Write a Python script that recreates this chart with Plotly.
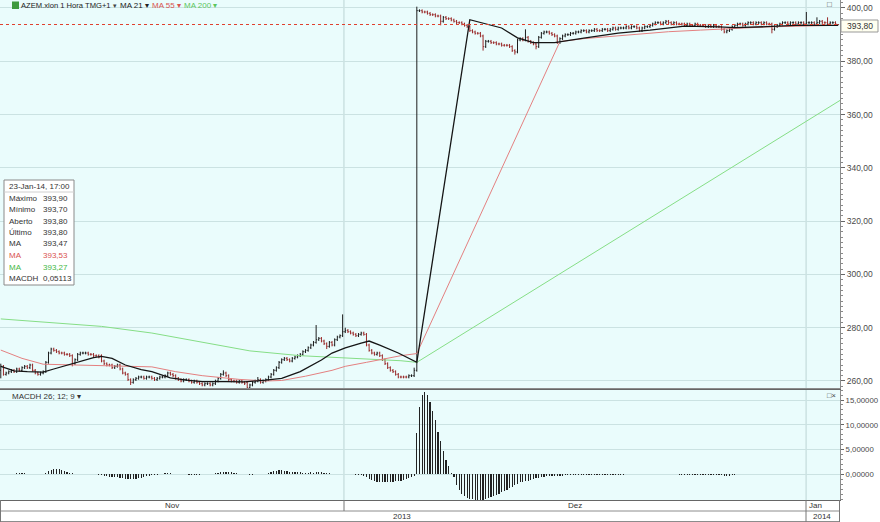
import plotly.graph_objects as go

W, H = 880, 522
def px(x): return x / W
def py(y): return 1 - y / H

FONT = "Liberation Sans, Arial, sans-serif"

# ---------------- data (hourly bars, AZEM.xlon) ----------------
opens = [
 264.0, 265.5, 262.5, 263.0, 263.5, 264.0, 263.5, 264.5, 264.0, 265.0,
 265.5, 265.0, 266.0, 264.0, 263.0, 262.5, 263.0,
 263.5, 267.0, 270.5, 272.0,
 271.5, 271.0, 270.5, 270.5, 270.0, 270.0, 269.5, 266.5, 268.0, 270.0, 270.5, 270.5, 270.5, 270.0, 270.0, 269.5, 269.5,
 269.5, 267.5, 266.5, 266.0, 266.0, 265.0, 265.5, 266.0, 264.5, 263.0, 262.5, 260.5,
 259.5, 260.5, 261.0, 261.5, 261.5, 261.0, 261.5, 261.5, 261.0, 260.5, 261.0, 261.5,
 261.5, 262.0, 263.0, 262.5,
 262.0, 261.0, 260.5, 260.0, 260.5, 260.5, 260.0, 259.5,
 260.0, 259.5, 259.0, 258.5, 259.0, 259.0, 258.5,
 259.0, 260.0, 261.0, 262.5, 263.0,
 262.0, 260.5, 260.0, 260.0, 259.5, 260.0, 259.5,
 259.5, 257.5,
 258.5, 259.5, 260.0, 260.5, 259.5, 260.0,
 260.5, 261.5, 262.5, 264.0, 265.0,
 267.0, 268.0, 268.5, 268.0, 267.5, 268.5, 269.0, 269.5,
 270.0, 271.0, 271.5, 272.5, 273.5,
 274.5, 275.5,
 276.0, 275.0, 274.0, 273.0, 274.5, 273.5,
 275.5, 276.5, 277.0,
 278.5, 279.0, 278.5, 278.0, 277.5, 277.0, 277.5, 278.0,
 277.5, 273.5,
 271.5, 270.5, 270.0, 270.5, 269.5, 268.0, 266.5, 265.0,
 264.0, 263.5, 262.5, 261.5, 261.5, 261.5, 261.5, 262.0, 262.0,
 264.0,
 399.0, 399.0, 398.5, 398.5, 398.0,
 397.5, 397.5, 397.0,
 397.0,
 395.0, 396.5, 396.0, 396.0, 395.5, 395.0, 394.5,
 394.5, 394.0, 393.5, 393.0,
 391.5, 391.0, 390.5, 390.5,
 389.5,
 385.5, 387.5, 387.5, 387.0, 387.0, 386.5, 386.5, 386.0, 386.0, 386.0,
 385.5, 384.0,
 383.5,
 388.0, 388.5, 388.0,
 389.0, 387.5, 387.0, 386.5,
 385.5, 389.0,
 390.5, 391.0, 391.0, 390.5, 390.0,
 389.5,
 387.0, 388.5, 389.5, 390.0, 390.0, 390.5, 390.5,
 391.0, 391.0, 391.5, 391.5, 391.0, 391.5, 391.5, 392.0, 391.5,
 391.5, 392.0, 392.0, 391.5, 392.0, 392.5, 392.0, 392.5,
 392.5, 392.5, 393.0, 392.5, 393.0, 393.0, 392.5, 391.5, 392.5, 393.0, 393.0,
 393.5, 394.0, 394.5, 394.5, 394.0, 394.5, 395.0, 394.5, 394.0, 394.5, 394.0,
 394.0, 394.0, 393.5, 394.0, 393.5, 393.5, 394.0, 393.5,
 393.5, 393.5, 393.0, 393.5, 393.0, 393.5, 393.0,
 393.0, 392.0, 391.0, 391.5,
 392.0, 393.0, 393.5, 394.0, 394.0, 393.5,
 394.0, 394.5, 394.5, 394.0, 394.5, 394.5, 394.0, 394.5, 394.0,
 394.0, 392.0,
 393.0, 393.5, 394.0, 394.5, 394.5, 394.0, 394.5, 394.5, 394.0, 394.5, 394.5,
 394.0,
 394.5, 394.5, 394.5, 394.0, 394.5, 395.0, 394.5, 394.5, 394.0, 394.5, 394.5, 393.8,
]

highs = [
 266.5, 266.0, 263.5, 264.0, 264.5, 264.5, 265.0, 265.0, 265.5, 266.0,
 266.0, 266.5, 266.5, 264.5, 263.5, 263.5, 264.0,
 267.5, 271.0, 272.5, 272.5,
 272.0, 271.5, 271.0, 271.0, 270.5, 270.5, 270.0, 268.5, 270.5, 271.0, 271.0, 271.0, 271.0, 270.5, 270.5, 270.0, 270.0,
 270.0, 268.0, 267.0, 266.5, 266.5, 266.0, 266.5, 266.5, 265.0, 263.5, 263.0, 261.0,
 261.0, 261.5, 262.0, 262.0, 262.0, 262.0, 262.0, 262.0, 261.5, 261.5, 262.0, 262.0,
 262.5, 263.5, 263.5, 263.0,
 262.5, 261.5, 261.0, 261.0, 261.0, 261.0, 260.5, 260.5,
 260.5, 260.0, 259.5, 259.5, 259.5, 259.5, 259.5,
 260.5, 261.5, 263.0, 264.0, 263.5,
 262.5, 261.0, 260.5, 260.5, 260.5, 260.5, 260.0,
 260.0, 259.0,
 260.0, 260.5, 261.5, 261.0, 260.5, 261.0,
 262.0, 263.0, 264.5, 265.5, 267.5,
 268.5, 269.0, 269.0, 268.5, 269.0, 269.5, 270.0, 270.5,
 271.5, 272.0, 273.0, 274.0, 275.0,
 281.0, 276.5,
 276.5, 275.5, 274.5, 275.0, 275.0, 276.0,
 277.0, 277.5, 285.0,
 280.0, 279.5, 279.0, 278.5, 278.0, 278.0, 278.5, 278.5,
 278.0, 274.0,
 272.0, 271.0, 271.0, 271.0, 270.0, 268.5, 267.0, 265.5,
 264.5, 264.0, 263.0, 262.0, 262.0, 262.0, 262.5, 262.5, 265.0,
 400.5,
 399.5, 399.5, 399.0, 399.0, 398.5,
 398.0, 398.0, 397.5,
 397.5,
 397.0, 397.0, 396.5, 396.5, 396.0, 395.5, 395.0,
 395.0, 394.5, 394.0, 393.5,
 392.0, 391.5, 391.0, 391.0,
 390.0,
 388.0, 388.0, 388.0, 387.5, 387.5, 387.0, 387.0, 386.5, 386.5, 386.5,
 386.0, 384.5,
 388.5,
 389.0, 389.0, 392.0,
 389.5, 388.0, 387.5, 387.0,
 389.5, 391.0,
 391.5, 391.5, 391.5, 391.0, 390.5,
 390.0,
 389.0, 390.0, 390.5, 390.5, 391.0, 391.0, 391.5,
 391.5, 392.0, 392.0, 392.0, 392.0, 392.0, 392.5, 392.5, 392.0,
 392.5, 392.5, 392.5, 392.5, 393.0, 393.0, 393.0, 393.0,
 393.0, 393.5, 393.5, 393.5, 393.5, 393.5, 393.0, 393.0, 393.5, 393.5, 394.0,
 394.5, 395.0, 395.0, 395.0, 395.0, 395.5, 395.5, 395.0, 395.0, 395.0, 394.5,
 394.5, 394.5, 394.5, 394.5, 394.0, 394.5, 394.5, 394.0,
 394.0, 394.0, 394.0, 394.0, 394.0, 394.0, 393.5,
 393.5, 392.5, 392.0, 392.5,
 393.5, 394.0, 394.5, 394.5, 394.5, 394.5,
 395.0, 395.0, 395.0, 395.0, 395.0, 395.0, 395.0, 395.0, 394.5,
 394.5, 393.5,
 394.0, 394.5, 395.0, 395.0, 395.0, 395.0, 395.0, 395.0, 395.0, 395.0, 395.0,
 398.5,
 395.0, 395.0, 395.0, 396.5, 395.5, 395.5, 395.0, 396.5, 395.0, 395.0, 395.0, 393.9,
]

lows = [
 261.0, 262.0, 262.0, 262.5, 263.0, 263.0, 263.0, 263.5, 263.5, 264.5,
 264.5, 264.5, 263.5, 262.5, 262.0, 262.0, 262.5,
 263.0, 266.5, 270.0, 271.0,
 270.5, 270.0, 270.0, 269.5, 269.5, 269.0, 265.5, 266.0, 267.5, 269.5, 270.0, 270.0, 269.5, 269.5, 269.0, 269.0, 268.5,
 267.0, 266.0, 265.5, 265.5, 264.5, 264.5, 265.0, 264.0, 262.5, 262.0, 260.0, 258.5,
 259.0, 260.0, 260.5, 261.0, 260.5, 260.5, 261.0, 260.5, 260.0, 260.0, 260.5, 261.0,
 261.0, 261.5, 262.0, 261.5,
 260.5, 260.0, 259.5, 259.5, 260.0, 259.5, 259.0, 259.0,
 259.0, 258.5, 258.0, 258.0, 258.5, 258.0, 258.0,
 258.5, 259.5, 260.5, 262.0, 261.5,
 260.0, 259.5, 259.5, 259.0, 259.0, 259.0, 258.5,
 257.0, 257.0,
 258.0, 259.0, 259.5, 259.0, 259.0, 259.5,
 260.0, 261.0, 262.0, 263.5, 264.5,
 266.5, 267.5, 267.5, 267.0, 267.0, 268.0, 268.5, 269.0,
 269.5, 270.5, 271.0, 272.0, 273.0,
 274.0, 275.0,
 274.5, 273.5, 272.0, 272.5, 273.0, 273.0,
 275.0, 276.0, 276.5,
 278.0, 278.0, 277.5, 277.0, 276.5, 276.5, 277.0, 277.0,
 273.0, 271.0,
 270.0, 269.5, 269.5, 269.0, 267.5, 266.0, 264.5, 263.5,
 263.0, 262.0, 261.0, 261.0, 261.0, 261.0, 261.0, 261.5, 261.5,
 263.5,
 398.5, 398.0, 398.0, 397.5, 397.0,
 397.0, 396.5, 396.5,
 393.5,
 394.5, 395.5, 395.5, 395.0, 394.5, 394.0, 394.0,
 393.5, 393.0, 392.5, 391.0,
 390.5, 390.0, 390.0, 389.0,
 384.0,
 385.0, 387.0, 386.5, 386.5, 386.0, 386.0, 385.5, 385.5, 385.5, 385.0,
 383.5, 382.5,
 383.0,
 387.5, 387.5, 387.5,
 387.0, 386.5, 386.0, 384.5,
 385.0, 388.5,
 390.0, 390.5, 390.0, 389.5, 389.0,
 386.5,
 386.5, 388.0, 389.0, 389.5, 389.5, 390.0, 390.0,
 390.5, 390.5, 391.0, 390.5, 390.5, 391.0, 391.0, 391.0, 391.0,
 391.0, 391.5, 391.0, 391.0, 391.5, 391.5, 391.5, 392.0,
 392.0, 392.0, 392.0, 392.0, 392.5, 392.0, 391.0, 391.0, 392.0, 392.5, 392.5,
 393.0, 393.5, 394.0, 393.5, 393.5, 394.0, 394.0, 393.5, 393.5, 393.5, 393.5,
 393.5, 393.0, 393.0, 393.0, 393.0, 393.0, 393.0, 393.0,
 393.0, 392.5, 392.5, 392.5, 392.5, 392.5, 392.5,
 391.5, 390.5, 390.5, 391.0,
 391.5, 392.5, 393.0, 393.5, 393.0, 393.0,
 393.5, 394.0, 393.5, 393.5, 394.0, 393.5, 393.5, 393.5, 393.5,
 390.5, 391.5,
 392.5, 393.0, 393.5, 394.0, 393.5, 393.5, 394.0, 393.5, 393.5, 394.0, 393.5,
 393.5,
 394.0, 394.0, 393.5, 393.5, 394.0, 394.0, 394.0, 393.5, 393.5, 394.0, 393.5, 393.7,
]

closes = [
 265.5, 262.5, 263.0, 263.5, 264.0, 263.5, 264.5, 264.0, 265.0, 265.5,
 265.0, 266.0, 264.0, 263.0, 262.5, 263.0, 263.5,
 267.0, 270.5, 272.0, 271.5,
 271.0, 270.5, 270.5, 270.0, 270.0, 269.5, 266.5, 268.0, 270.0, 270.5, 270.5, 270.5, 270.0, 270.0, 269.5, 269.5, 269.0,
 267.5, 266.5, 266.0, 266.0, 265.0, 265.5, 266.0, 264.5, 263.0, 262.5, 260.5, 259.5,
 260.5, 261.0, 261.5, 261.5, 261.0, 261.5, 261.5, 261.0, 260.5, 261.0, 261.5, 261.5,
 262.0, 263.0, 262.5, 262.0,
 261.0, 260.5, 260.0, 260.5, 260.5, 260.0, 259.5, 260.0,
 259.5, 259.0, 258.5, 259.0, 259.0, 258.5, 259.0,
 260.0, 261.0, 262.5, 263.0, 262.0,
 260.5, 260.0, 260.0, 259.5, 260.0, 259.5, 259.0,
 257.5, 258.5,
 259.5, 260.0, 260.5, 259.5, 260.0, 260.5,
 261.5, 262.5, 264.0, 265.0, 267.0,
 268.0, 268.5, 268.0, 267.5, 268.5, 269.0, 269.5, 270.0,
 271.0, 271.5, 272.5, 273.5, 274.5,
 275.5, 276.0,
 275.0, 274.0, 273.0, 274.5, 273.5, 275.5,
 276.5, 277.0, 278.5,
 279.0, 278.5, 278.0, 277.5, 277.0, 277.5, 278.0, 277.5,
 273.5, 271.5,
 270.5, 270.0, 270.5, 269.5, 268.0, 266.5, 265.0, 264.0,
 263.5, 262.5, 261.5, 261.5, 261.5, 261.5, 262.0, 262.0, 264.0,
 399.0,
 399.0, 398.5, 398.5, 398.0, 397.5,
 397.5, 397.0, 397.0,
 395.0,
 396.5, 396.0, 396.0, 395.5, 395.0, 394.5, 394.5,
 394.0, 393.5, 393.0, 391.5,
 391.0, 390.5, 390.5, 389.5,
 385.5,
 387.5, 387.5, 387.0, 387.0, 386.5, 386.5, 386.0, 386.0, 386.0, 385.5,
 384.0, 383.5,
 388.0,
 388.5, 388.0, 389.0,
 387.5, 387.0, 386.5, 385.5,
 389.0, 390.5,
 391.0, 391.0, 390.5, 390.0, 389.5,
 387.0,
 388.5, 389.5, 390.0, 390.0, 390.5, 390.5, 391.0,
 391.0, 391.5, 391.5, 391.0, 391.5, 391.5, 392.0, 391.5, 391.5,
 392.0, 392.0, 391.5, 392.0, 392.5, 392.0, 392.5, 392.5,
 392.5, 393.0, 392.5, 393.0, 393.0, 392.5, 391.5, 392.5, 393.0, 393.0, 393.5,
 394.0, 394.5, 394.5, 394.0, 394.5, 395.0, 394.5, 394.0, 394.5, 394.0, 394.0,
 394.0, 393.5, 394.0, 393.5, 393.5, 394.0, 393.5, 393.5,
 393.5, 393.0, 393.5, 393.0, 393.5, 393.0, 393.0,
 392.0, 391.0, 391.5, 392.0,
 393.0, 393.5, 394.0, 394.0, 393.5, 394.0,
 394.5, 394.5, 394.0, 394.5, 394.5, 394.0, 394.5, 394.0, 394.0,
 392.0, 393.0,
 393.5, 394.0, 394.5, 394.5, 394.0, 394.5, 394.5, 394.0, 394.5, 394.5, 394.0,
 394.5,
 394.5, 394.5, 394.0, 394.5, 395.0, 394.5, 394.5, 394.0, 394.5, 394.5, 394.0, 393.8,
]

macdh = [
 0.05, 0.05, 0.1, 0.05, 0.0, 0.1, 0.2, 0.3, 0.3, 0.2, 0.1, 0.05, 0.0, 0.0, 0.05, 0.1,
 0.1, 0.3, 0.6, 0.9, 1.1, 1.1, 1.0, 0.9, 0.7, 0.5, 0.3, 0.2,
 0.1, 0.1, 0.05, 0.1, 0.1, 0.05, 0.05, 0.0, 0.0,
 -0.1, -0.2, -0.3, -0.4, -0.5, -0.5, -0.6, -0.6, -0.7, -0.8, -0.9, -1.0, -1.0, -1.0, -0.9, -0.8, -0.7, -0.5, -0.4, -0.3, -0.2,
 -0.1, -0.05, 0.05, 0.1, 0.2, 0.2, 0.2, 0.15, 0.1, 0.1, 0.05, 0.0, 0.0, -0.05, -0.1, -0.1, -0.05, -0.05, 0.0, 0.0, 0.05, 0.05, 0.1,
 0.2, 0.3, 0.4, 0.5, 0.5, 0.4, 0.4, 0.3, 0.2, 0.1, 0.05, 0.0,
 0.0, -0.05, -0.05, 0.0, 0.0, 0.05, 0.05, 0.1, 0.2,
 0.4, 0.6, 0.7, 0.8, 0.8, 0.7, 0.6, 0.5, 0.5, 0.4, 0.4, 0.4, 0.3, 0.3, 0.3, 0.4, 0.3,
 0.4, 0.5, 0.4, 0.3, 0.2, 0.2, 0.1, 0.05, 0.0, 0.05, 0.1,
 0.05, 0.05, 0.0, 0.0, -0.1, -0.1, -0.2, -0.3,
 -0.6, -0.9, -1.2, -1.4, -1.5, -1.5, -1.5, -1.5, -1.5, -1.5, -1.5, -1.4, -1.4, -1.4, -1.2, -1.0, -0.8, -0.6, -0.35,
 8.4, 13.5, 16.0, 16.7, 16.0, 14.5, 12.8, 10.9, 8.6, 6.7, 4.8, 2.9, 1.6,
 0.3, -0.5, -2.2, -3.2, -3.9, -4.4, -4.7, -4.9, -5.05, -5.1, -5.2, -5.2, -5.1, -5.0, -4.8, -4.6, -4.4, -4.1, -3.9, -3.6,
 -3.4, -3.1, -2.8, -2.5, -2.2, -1.9, -1.6, -1.5, -1.4, -1.3, -1.2, -1.0, -0.8, -0.7, -0.6, -0.5, -0.4, -0.4, -0.3,
 -0.3, -0.3, -0.25, -0.25, -0.2, -0.2, -0.2, -0.2, -0.15, -0.15, -0.15, -0.15, -0.1, -0.1, -0.1, -0.1, -0.1, -0.1, -0.1, -0.1,
 -0.05, -0.05, -0.05, -0.05, -0.05, -0.05, -0.05, 0.0, 0.0, 0.0, 0.0, 0.0,
 0.05, 0.05, 0.0, 0.0, 0.0, 0.0, 0.0, 0.0, 0.0, 0.0, 0.0, 0.0, 0.0, 0.0, 0.0,
 -0.05, -0.1, -0.1, -0.1, -0.1, -0.15, -0.15, -0.15, -0.15, -0.15, -0.15, -0.15, -0.15, -0.2, -0.2, -0.2, -0.2,
 -0.25, -0.3, -0.25, -0.2, -0.1, 0.0, 0.05, 0.1, 0.1,
 0.15, 0.15, 0.15, 0.1, 0.05, 0.0, 0.0, 0.0, 0.0, 0.0, 0.0,
 0.05, 0.1, 0.05, 0.0, 0.0, 0.0, 0.05, 0.05, 0.0, 0.0, 0.0,
 0.0, 0.0, 0.0, 0.0, 0.0, 0.0, 0.0, 0.0, 0.05, 0.05, 0.05, 0.05, 0.05,
]

# moving averages read at anchor bars (bar index, value)
ma21_idx = [0, 5, 10, 16, 20, 25, 30, 35, 38, 42, 47, 53, 57, 64, 70, 76, 85, 92, 100, 106,
            113, 121, 125, 130, 136, 139, 143, 150, 157, 177, 189, 195, 201, 209, 220, 233, 245, 258, 271, 277,
            289, 302, 316]
ma21_val = [265.5, 263.8, 263.5, 263.3, 264.5, 266.0, 267.5, 268.8, 269.2, 268.5, 266.0, 264.3, 263.5, 261.2, 260.3, 259.8, 259.8, 259.7, 260.3, 261.0,
            263.5, 267.9, 270.5, 272.4, 274.2, 275.0, 273.5, 270.5, 267.0, 395.6, 392.5, 388.8, 387.0, 387.0, 388.7, 390.6, 391.7, 393.2, 392.9, 392.6,
            393.0, 393.6, 393.5]
ma55_idx = [0, 8, 16, 30, 45, 57, 66, 76, 90, 100, 106, 115, 125, 130, 138, 145, 151, 157, 211, 220,
            233, 252, 264, 277, 289, 302, 316]
ma55_val = [271.6, 268.5, 266.3, 266.0, 265.8, 265.3, 263.5, 262.0, 260.6, 260.0, 260.2, 261.8, 264.0, 265.5, 267.0, 268.5, 269.5, 270.3, 387.4, 388.5,
            389.5, 391.1, 391.7, 392.4, 392.9, 393.2, 393.5]
ma200_idx = [0, 38, 57, 75, 94, 113, 132, 151, 157, 356]
ma200_val = [283.3, 280.5, 278.0, 274.8, 271.3, 269.5, 268.6, 267.6, 267.0, 389.5]

price_ticks = [260, 280, 300, 320, 340, 360, 380, 400]
macd_ticks = [0, 5, 10, 15]
month_labels = ["Nov", "Dez", "Jan"]
year_labels = ["2013", "2014"]
month_start_bars = [129.5, 303.9]   # Nov|Dez, Dez|Jan boundaries
last_price = 393.80

info_rows = [("Máximo", "393,90", "#333"), ("Mínimo", "393,70", "#333"), ("Aberto", "393,80", "#333"),
             ("Último", "393,80", "#333"), ("MA", "393,47", "#333"), ("MA", "393,53", "#d9534f"),
             ("MA", "393,27", "#45b845"), ("MACDH", "0,05113", "#333")]

assert len(opens) == len(highs) == len(lows) == len(closes) == len(macdh), (len(opens), len(highs), len(lows), len(closes), len(macdh))

n = len(closes)
idx = list(range(n))
xr = [-0.3, n - 0.3]

fig = go.Figure()
fig.add_trace(go.Ohlc(x=idx, open=opens, high=highs, low=lows, close=closes,
                      xaxis="x", yaxis="y", tickwidth=0.35,
                      increasing=dict(line=dict(color="#1e1e1e", width=1)),
                      decreasing=dict(line=dict(color="#9a2a2a", width=1)),
                      hoverinfo="skip", showlegend=False))
fig.add_trace(go.Scatter(x=ma200_idx, y=ma200_val, mode="lines", xaxis="x", yaxis="y",
                         line=dict(color="#86de86", width=1), hoverinfo="skip"))
fig.add_trace(go.Scatter(x=ma55_idx, y=ma55_val, mode="lines", xaxis="x", yaxis="y",
                         line=dict(color="#e48080", width=1), hoverinfo="skip"))
fig.add_trace(go.Scatter(x=ma21_idx, y=ma21_val, mode="lines", xaxis="x", yaxis="y",
                         line=dict(color="#151515", width=1.3), hoverinfo="skip"))
fig.add_trace(go.Bar(x=idx, y=macdh, xaxis="x2", yaxis="y2", width=0.45,
                     marker=dict(color="#222222", line=dict(width=0)), hoverinfo="skip"))

axis_line = "#8c8c8c"
grid = "#cbe2e2"
tickfont = dict(family=FONT, size=8.5, color="#4a4a4a")
tickfont2 = dict(family=FONT, size=7.8, color="#4a4a4a")

fig.update_layout(
    template="none",
    width=W, height=H, margin=dict(l=0, r=0, t=0, b=0, autoexpand=False),
    paper_bgcolor="white", plot_bgcolor="#eafcfc",
    separators=", ", showlegend=False, bargap=0, hovermode=False,
    xaxis=dict(domain=[0, px(840)], range=xr, anchor="y", showticklabels=False, ticks="",
               showgrid=False, zeroline=False, rangeslider=dict(visible=False), automargin=False,
               showline=True, linecolor=axis_line, mirror=True),
    yaxis=dict(domain=[py(388), 1], range=[257.37, 403.0], anchor="x", side="right", automargin=False,
               tickvals=price_ticks, tickformat=".2f", ticks="outside", ticklen=4, tickcolor="#666",
               tickfont=tickfont, showgrid=True, gridcolor=grid, gridwidth=1, zeroline=False,
               showline=True, linecolor=axis_line, mirror=True,
               minor=dict(ticks="outside", ticklen=2, dtick=2, tick0=0, tickcolor="#888", showgrid=False)),
    xaxis2=dict(domain=[0, px(840)], range=xr, anchor="y2", showticklabels=False, ticks="", automargin=False,
                showgrid=False, zeroline=False, showline=True, linecolor="#666", mirror=True),
    yaxis2=dict(domain=[py(500), py(390)], range=[-5.19, 17.02], anchor="x2", side="right", automargin=False,
                tickvals=macd_ticks, tickformat=".5f", ticks="outside", ticklen=3, tickcolor="#666",
                tickfont=tickfont2, showgrid=True, gridcolor=grid, gridwidth=1, zeroline=False,
                showline=True, linecolor=axis_line, mirror=True,
                minor=dict(ticks="outside", ticklen=2, dtick=1, tick0=0, tickcolor="#888", showgrid=False)),
)

shapes = []
# month-boundary vertical grid lines in both panels
for xb in month_start_bars:
    shapes.append(dict(type="line", xref="x", yref="paper", x0=xb, x1=xb, y0=py(388), y1=1,
                       line=dict(color="#bcd4d4", width=1), layer="below"))
    shapes.append(dict(type="line", xref="x2", yref="paper", x0=xb, x1=xb, y0=py(500), y1=py(390),
                       line=dict(color="#bcd4d4", width=1), layer="below"))
# last price dotted line
shapes.append(dict(type="line", xref="paper", yref="y", x0=0, x1=px(840), y0=last_price, y1=last_price,
                   line=dict(color="#e0402e", width=1, dash="dot")))
# time axis rows
for yy, col in [(500.5, "#666"), (511, "#8c8c8c"), (521.5, "#8c8c8c")]:
    shapes.append(dict(type="line", xref="paper", yref="paper", x0=0, x1=px(840), y0=py(yy), y1=py(yy),
                       line=dict(color=col, width=1)))
for xx, y0, y1 in [(0.5, 500, 522), (344, 500, 511), (806, 500, 522), (839.5, 500, 522)]:
    shapes.append(dict(type="line", xref="paper", yref="paper", x0=px(xx), x1=px(xx), y0=py(y0), y1=py(y1),
                       line=dict(color="#777", width=1)))
# header icon
shapes.append(dict(type="rect", xref="paper", yref="paper", x0=px(12), x1=px(19), y0=py(9), y1=py(1.5),
                   fillcolor="#3f9a3f", line=dict(width=0)))
# info box
shapes.append(dict(type="rect", xref="paper", yref="paper", x0=px(4), x1=px(74), y0=py(285), y1=py(180),
                   fillcolor="white", line=dict(color="#8a8a8a", width=1)))
shapes.append(dict(type="line", xref="paper", yref="paper", x0=px(4), x1=px(74), y0=py(192), y1=py(192),
                   line=dict(color="#d0d0d0", width=1)))
# last price tag
shapes.append(dict(type="rect", xref="paper", yref="paper", x0=px(841), x1=px(878), y0=py(32), y1=py(20),
                   fillcolor="#fffff0", line=dict(color="#999", width=1)))
fig.update_layout(shapes=shapes)

ann = []
def text(x, y, s, color="#333", size=9, anchor="left"):
    ann.append(dict(xref="paper", yref="paper", x=px(x), y=py(y), text=s, showarrow=False,
                    xanchor=anchor, yanchor="middle", font=dict(family=FONT, size=size, color=color)))

text(19, 5.5, "AZEM.xlon 1 Hora TMG+1", "#222", 7.6)
text(111, 5.5, "▾", "#444", 7)
text(118, 5.5, "MA 21 ▾", "#222", 8)
text(150, 5.5, "MA 55 ▾", "#d9534f", 8)
text(182, 5.5, "MA 200 ▾", "#5cc65c", 8)
text(829, 5, "□", "#444", 8, "center")
text(10, 396, "MACDH 26; 12; 9 ▾", "#333", 8)
text(831, 395.5, "□×", "#444", 7.5, "center")

text(7, 186, "23-Jan-14, 17:00", "#333", 8)
for k, (lab, val, col) in enumerate(info_rows):
    yy = 198 + k * 11.5
    text(7, yy, lab, col, 8)
    text(41, yy, val, col, 8)

text(859.5, 26, "393,80", "#333", 8.5, "center")

text(172, 505.5, month_labels[0], "#333", 8, "center")
text(575, 505.5, month_labels[1], "#333", 8, "center")
text(815, 505.5, month_labels[2], "#333", 8, "center")
text(402, 516.5, year_labels[0], "#333", 8, "center")
text(822, 516.5, year_labels[1], "#333", 8, "center")
fig.update_layout(annotations=ann)

fig.write_html("out.html", config={"displayModeBar": False, "staticPlot": True},
               post_script="document.body.style.margin='0';document.body.style.overflow='hidden';")
